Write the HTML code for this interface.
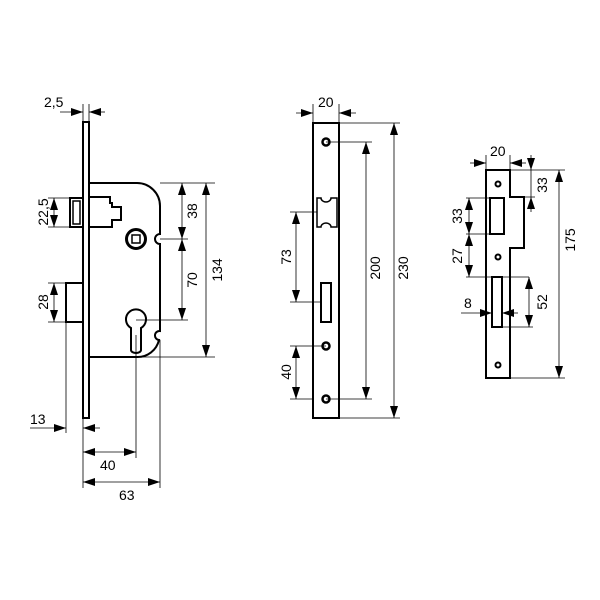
<!DOCTYPE html>
<html><head><meta charset="utf-8"><style>
html,body{margin:0;padding:0;background:#fff}
svg{display:block}
text{font-family:"Liberation Sans","DejaVu Sans",sans-serif;font-size:14px;fill:#000}
</style></head><body>
<svg width="600" height="600" viewBox="0 0 600 600" xmlns="http://www.w3.org/2000/svg">
<defs>
<marker id="a" markerWidth="12" markerHeight="8" refX="12" refY="4" orient="auto-start-reverse" markerUnits="userSpaceOnUse"><path d="M0,0 L12,4 L0,8 z" fill="#000"/></marker>
</defs>
<g fill="none" stroke="#000" stroke-width="2">
<rect x="83" y="122" width="6" height="296" fill="#fff"/>
<path d="M89,183 L137,183 A23,23 0 0 1 160,206 L160,234 A4,4 0 0 0 160,244 L160,331 A4,4 0 0 0 159,340 A22,22 0 0 1 137,357 L89,357"/>
<path d="M89,197 L110,197 L110,203 L112,203 L112,207 L121,207 L121,220 L112,220 L112,227 L89,227"/>
<rect x="70" y="198" width="13" height="29"/>
<rect x="73" y="201" width="7" height="23" stroke-width="1.5"/>
<rect x="66" y="283" width="17" height="39"/>
<circle cx="136" cy="239" r="9.5" stroke-width="3"/>
<rect x="132" y="235" width="8" height="8" stroke-width="1.5"/>
<path d="M131,328 A10,10 0 1 1 141,328 L141,350 A5,3 0 0 1 131,350 Z"/>
<rect x="313" y="123" width="26" height="295"/>
<path d="M317,198 L321,198 A5,4 0 0 0 331,198 L337,198 L337,227 L331,227 A5,4 0 0 0 321,227 L317,227 Z" stroke-width="1.5"/>
<rect x="321" y="283" width="10" height="39"/>
<path d="M486,170 L510,170 L510,197 L524,197 L524,248 L510,248 L510,378 L486,378 Z"/>
<rect x="490" y="198" width="14" height="36"/>
<rect x="492" y="277" width="10" height="50"/>
</g>
<g fill="#fff" stroke="#000" stroke-width="2">
<circle cx="326" cy="142" r="3.5" stroke-width="2.5"/>
<circle cx="326" cy="346" r="3.5" stroke-width="2.5"/>
<circle cx="326" cy="399" r="3.5" stroke-width="2.5"/>
<circle cx="498" cy="184" r="2.5"/>
<circle cx="498" cy="257" r="2.5"/>
<circle cx="498" cy="365" r="2.5"/>
</g>
<g stroke="#000" stroke-width="0.8" fill="none">
<path d="M83,104 V122 M89,104 V122"/>
<path d="M160,183 H215 M160,239 H188 M136,320 H188 M136,357 H215"/>
<path d="M48,198 H70 M48,227 H70 M48,283 H66 M48,322 H66"/>
<path d="M66,322 V433 M83,418 V488 M136,335 V458 M160,340 V488"/>
<path d="M60,112 H83" marker-end="url(#a)"/>
<path d="M105,112 H89" marker-end="url(#a)"/>
<path d="M182,183 V239" marker-start="url(#a)" marker-end="url(#a)"/>
<path d="M182,239 V320" marker-start="url(#a)" marker-end="url(#a)"/>
<path d="M206,183 V357" marker-start="url(#a)" marker-end="url(#a)"/>
<path d="M54,198 V227" marker-start="url(#a)" marker-end="url(#a)"/>
<path d="M54,283 V322" marker-start="url(#a)" marker-end="url(#a)"/>
<path d="M30,428 H66" marker-end="url(#a)"/>
<path d="M100,428 H83" marker-end="url(#a)"/>
<path d="M83,452 H136" marker-start="url(#a)" marker-end="url(#a)"/>
<path d="M83,482 H160" marker-start="url(#a)" marker-end="url(#a)"/>
<path d="M313,104 V123 M339,104 V123"/>
<path d="M296,113 H313" marker-end="url(#a)"/>
<path d="M356,113 H339" marker-end="url(#a)"/>
<path d="M339,123 H400 M326,142 H372 M326,399 H372 M339,418 H400"/>
<path d="M366,142 V399" marker-start="url(#a)" marker-end="url(#a)"/>
<path d="M394,123 V418" marker-start="url(#a)" marker-end="url(#a)"/>
<path d="M290,212 H317 M290,302 H321 M290,346 H326 M290,399 H313"/>
<path d="M296,212 V302" marker-start="url(#a)" marker-end="url(#a)"/>
<path d="M296,346 V399" marker-start="url(#a)" marker-end="url(#a)"/>
<path d="M486,155 V170 M510,155 V170"/>
<path d="M470,163 H486" marker-end="url(#a)"/>
<path d="M526,163 H510" marker-end="url(#a)"/>
<path d="M510,170 H565 M524,197 H535 M510,378 H565"/>
<path d="M531,155 V170" marker-end="url(#a)"/>
<path d="M531,212 V197" marker-end="url(#a)"/>
<path d="M531,170 V197"/>
<path d="M559,170 V378" marker-start="url(#a)" marker-end="url(#a)"/>
<path d="M466,198 H490 M466,234 H490 M466,277 H529"/>
<path d="M469,198 V234" marker-start="url(#a)" marker-end="url(#a)"/>
<path d="M469,234 V277" marker-start="url(#a)" marker-end="url(#a)"/>
<path d="M502,327 H533"/>
<path d="M529,277 V327" marker-start="url(#a)" marker-end="url(#a)"/>
<path d="M461,313 H492" marker-end="url(#a)"/>
<path d="M518,313 H502" marker-end="url(#a)"/>
</g>
<text x="44" y="107">2,5</text>
<text x="30" y="424">13</text>
<text x="100" y="470">40</text>
<text x="119" y="500">63</text>
<text transform="translate(48,212) rotate(-90)" text-anchor="middle">22,5</text>
<text transform="translate(48,302) rotate(-90)" text-anchor="middle">28</text>
<text transform="translate(197,211) rotate(-90)" text-anchor="middle">38</text>
<text transform="translate(197,280) rotate(-90)" text-anchor="middle">70</text>
<text transform="translate(222,270) rotate(-90)" text-anchor="middle">134</text>
<text x="318" y="107">20</text>
<text transform="translate(291,257) rotate(-90)" text-anchor="middle">73</text>
<text transform="translate(291,372) rotate(-90)" text-anchor="middle">40</text>
<text transform="translate(380,268) rotate(-90)" text-anchor="middle">200</text>
<text transform="translate(408,268) rotate(-90)" text-anchor="middle">230</text>
<text x="490" y="156">20</text>
<text transform="translate(547,185) rotate(-90)" text-anchor="middle">33</text>
<text transform="translate(575,240) rotate(-90)" text-anchor="middle">175</text>
<text transform="translate(462,216) rotate(-90)" text-anchor="middle">33</text>
<text transform="translate(462,256) rotate(-90)" text-anchor="middle">27</text>
<text transform="translate(547,302) rotate(-90)" text-anchor="middle">52</text>
<text x="464" y="308">8</text>
</svg>
</body></html>
